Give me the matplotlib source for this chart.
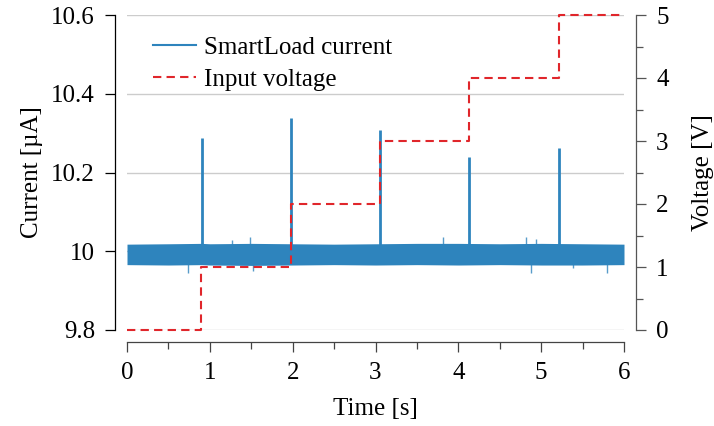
import matplotlib
matplotlib.use("Agg")
import matplotlib.pyplot as plt
from matplotlib.lines import Line2D
from matplotlib.ticker import MultipleLocator

plt.rcParams['font.family'] = ['Liberation Serif', 'DejaVu Serif']
plt.rcParams['font.size'] = 18

# Noise band envelope of the current signal (µA)
band_t = [0.0, 0.5, 0.9, 1.0, 1.5, 2.0, 2.5, 3.0, 3.5, 4.0, 4.5, 5.0, 5.5, 6.0]
band_hi = [10.018, 10.019, 10.020, 10.019, 10.020, 10.019, 10.018, 10.019, 10.020, 10.020, 10.019, 10.020, 10.019, 10.018]
band_lo = [9.966, 9.965, 9.966, 9.965, 9.964, 9.965, 9.966, 9.965, 9.966, 9.965, 9.966, 9.965, 9.965, 9.966]

# Current spikes at voltage steps
spike_t = [0.905, 1.98, 3.054, 4.129, 5.215]
spike_peak = [10.288, 10.338, 10.308, 10.239, 10.262]

# Small excursions of the noise
blip_t = [0.74, 1.49, 1.52, 1.27, 3.81, 4.82, 4.88, 4.94, 5.38, 5.79]
blip_v = [9.945, 10.035, 9.950, 10.028, 10.035, 10.037, 9.945, 10.032, 9.957, 9.945]

# Input voltage steps (V)
volt_t = [0.0, 0.893, 1.976, 3.05, 4.13, 5.21, 6.0]
volt_v = [0, 1, 2, 3, 4, 5, 5]

c_cur = '#2e84bd'
c_volt = '#e0262b'

fig = plt.figure(figsize=(7.14, 4.26), dpi=100)
ax = fig.add_axes([127/714, 1 - 330/426, (624 - 127)/714, (330 - 15)/426])
ax2 = ax.twinx()

ax.set_axisbelow(True)
ax.yaxis.grid(True, color='#cccccc', lw=1.0)

ax.fill_between(band_t, band_lo, band_hi, color=c_cur, lw=0, zorder=2)
ax.vlines(spike_t, 10.0, spike_peak, color=c_cur, lw=2.0, zorder=3)
ax.vlines(blip_t, 10.0, blip_v, color=c_cur, lw=1.0, alpha=0.8, zorder=2)

ax2.step(volt_t, volt_v, where='post', color=c_volt, lw=1.5, dashes=(4, 2.5),
         zorder=4, clip_on=False)

ax.set_xlim(0, 6)
ax.set_ylim(9.8, 10.6)
ax2.set_ylim(0, 5)
ax.set_yticks([9.8, 10.0, 10.2, 10.4, 10.6])
ax.set_yticklabels(['9.8', '10', '10.2', '10.4', '10.6'])
ax.set_xticks(range(7))
ax.xaxis.set_minor_locator(MultipleLocator(0.5))
ax2.set_yticks(range(6))
ax2.yaxis.set_minor_locator(MultipleLocator(0.5))

off = 8.6
for s in ['top', 'right']:
    ax.spines[s].set_visible(False)
for s in ['top', 'left', 'bottom']:
    ax2.spines[s].set_visible(False)
ax.spines['left'].set_position(('outward', off))
ax.spines['bottom'].set_position(('outward', off))
ax2.spines['right'].set_position(('outward', off))
ax.spines['left'].set_color('black')
ax.spines['bottom'].set_color('#444444')
ax2.spines['right'].set_color('#555555')
for sp in [ax.spines['left'], ax.spines['bottom'], ax2.spines['right']]:
    sp.set_linewidth(0.9)

ax.tick_params(axis='y', which='major', length=7.5, width=0.9, pad=7, color='black')
ax.tick_params(axis='x', which='major', length=7.5, width=0.9, pad=7, color='#444444')
ax.tick_params(axis='x', which='minor', length=5, width=0.9, color='#444444')
ax2.tick_params(axis='y', which='major', length=7.5, width=0.9, pad=7, color='#555555')
ax2.tick_params(axis='y', which='minor', length=5, width=0.9, color='#555555')

ax.set_xlabel('Time [s]', labelpad=10)
ax.set_ylabel('Current [µA]', labelpad=6)
ax2.set_ylabel('Voltage [V]', labelpad=17)

handles = [Line2D([], [], color=c_cur, lw=1.5),
           Line2D([], [], color=c_volt, lw=1.5, dashes=(4, 2.5))]
ax.legend(handles, ['SmartLoad current', 'Input voltage'], loc='upper left',
          bbox_to_anchor=(0.033, 0.965), frameon=False, handlelength=1.72,
          handletextpad=0.32, labelspacing=0.38, borderaxespad=0.0)

fig.savefig('out.png', dpi=100)
